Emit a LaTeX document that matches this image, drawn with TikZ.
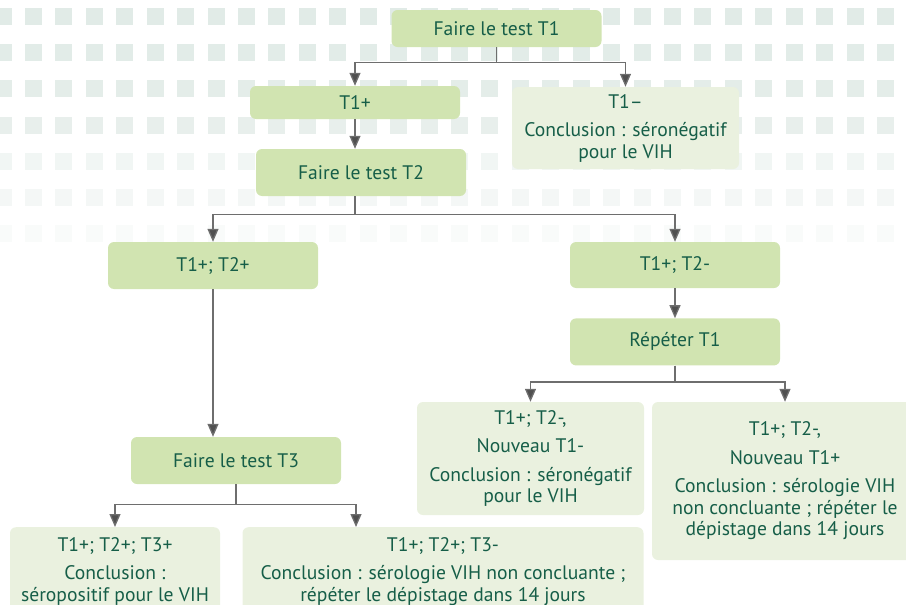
\documentclass[tikz,border=0pt]{standalone}
\usepackage{fontspec}
\setmainfont{PT Sans}
\usetikzlibrary{arrows.meta, positioning}
\definecolor{boxgreen}{RGB}{209,228,177}
\definecolor{palegreen}{RGB}{234,241,223}
\definecolor{textgreen}{RGB}{22,94,72}
\definecolor{linegray}{RGB}{110,110,110}
\definecolor{tipgray}{RGB}{80,80,80}
\definecolor{squaregray}{RGB}{225,235,231}

\begin{document}
\begin{tikzpicture}[
    x=1pt, y=-1pt,
    font=\fontsize{19.6}{21.5}\selectfont,
    box/.style={rectangle, rounded corners=6pt, fill=boxgreen, text=textgreen, minimum width=210pt, minimum height=47pt, align=center, inner sep=0pt},
    result/.style={rectangle, rounded corners=6pt, fill=palegreen, text=textgreen, align=center, inner sep=0pt},
    arrow/.style={-{Triangle[width=11pt, length=13pt, fill=tipgray]}, draw=linegray, line width=1.3pt}
]
\useasboundingbox (0,0) rectangle (906,605);
\clip (0,0) rectangle (906,605);

% squares behind the top of the chart
\foreach \j/\amt in {0/100,1/95,2/90,3/78,4/45,5/38,6/20}
  \foreach \i in {-1,...,28}
    \fill[squaregray!\amt!white] ({25+30.43*\i},{8+36.2*\j}) rectangle +(17,17);

\node[box, minimum height=37pt] (test1) at (496.5,28.5) {Faire le test T1};
\node[box, minimum height=33pt] (pos1) at (355,102.5) {T1+};
\node[result, minimum width=227pt, minimum height=82pt] (neg1) at (625.5,128) {T1–\\[7pt] Conclusion : séronégatif\\pour le VIH};
\node[box] (test2) at (361,172.5) {Faire le test T2};
\node[box] (pospos) at (213,265.5) {T1+; T2+};
\node[box, minimum height=46pt] (posneg) at (675,265) {T1+; T2-};
\node[box, below=30pt of posneg] (repeat1) {Répéter T1};
\node[result, minimum width=227pt, minimum height=113pt] (newneg) at (530.5,458.5) {T1+; T2-,\\[7pt] Nouveau T1-\\[7pt] Conclusion : séronégatif\\pour le VIH};
\node[result, minimum width=266pt, minimum height=158pt] (newpos) at (785,481) {T1+; T2-,\\[7pt] Nouveau T1+\\[7pt] Conclusion : sérologie VIH\\non concluante ; répéter le\\dépistage dans 14 jours};
\node[box] (test3) at (236,460.5) {Faire le test T3};
\node[result, anchor=north, minimum width=210pt, inner ysep=10pt] (res3pos) at (115,527) {T1+; T2+; T3+\\[7pt] Conclusion :\\séropositif pour le VIH};
\node[result, anchor=north, minimum width=401pt, inner ysep=10pt] (res3neg) at (443,527) {T1+; T2+; T3-\\[7pt] Conclusion : sérologie VIH non concluante ;\\répéter le dépistage dans 14 jours};

\draw[arrow] (test1.south) -- ++(0,15.5) -| (pos1.north);
\draw[arrow] (test1.south) -- ++(0,15.5) -| (neg1.north);
\draw[arrow] (pos1.south) -- (pos1.south |- test2.north);
\draw[arrow] (pos1.south |- test2.south) -- ++(0,18) -| (pospos.north);
\draw[arrow] (pos1.south |- test2.south) -- ++(0,18) -| (posneg.north);
\draw[arrow] (pospos.south) -- (pospos.south |- test3.north);
\draw[arrow] (posneg) -- (repeat1);
\draw[arrow] (repeat1.south) -- ++(0,16.5) -| (newneg.north);
\draw[arrow] (repeat1.south) -- ++(0,16.5) -| (newpos.north);
\draw[arrow] (test3.south) -- ++(0,20) -| (res3pos.north);
\draw[arrow] (test3.south) -- ++(0,20) -| ([xshift=-87pt]res3neg.north);
\end{tikzpicture}
\end{document}
